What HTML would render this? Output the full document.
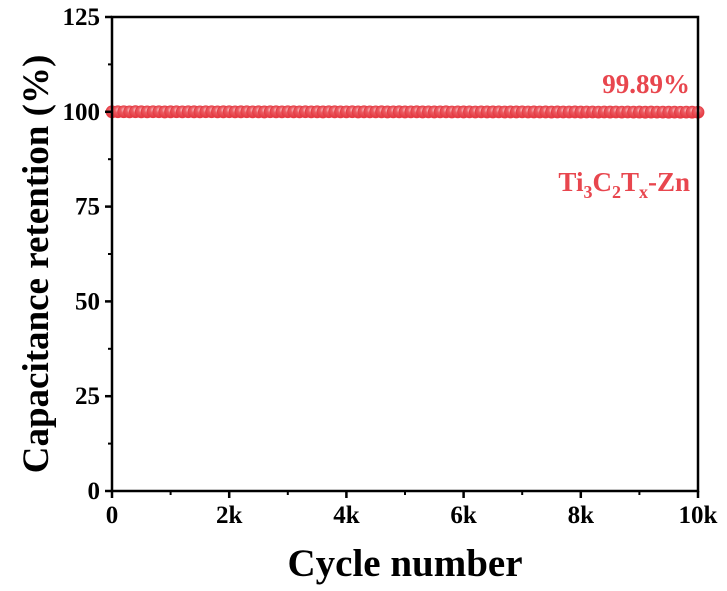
<!DOCTYPE html>
<html><head><meta charset="utf-8"><style>
html,body{margin:0;padding:0;background:#fff;}
svg{display:block;font-family:"Liberation Serif",serif;font-weight:bold;}
</style></head><body>
<svg id="chart" width="727" height="591" viewBox="0 0 727 591" xmlns="http://www.w3.org/2000/svg">
<defs>
<radialGradient id="mk" cx="0.5" cy="0.35" r="0.6">
<stop offset="0" stop-color="#f9d4d6"/><stop offset="0.4" stop-color="#ec5c63"/><stop offset="1" stop-color="#e43a42"/>
</radialGradient>
</defs>
<g id="marks"></g>
<g id="axes"></g>
<text x="690" y="93" text-anchor="end" font-size="27" fill="#e8464e">99.89%</text>
<text x="690" y="191" text-anchor="end" font-size="27" fill="#e8464e">Ti<tspan font-size="18" dy="7">3</tspan><tspan dy="-7">C</tspan><tspan font-size="18" dy="7">2</tspan><tspan dy="-7">T</tspan><tspan font-size="18" dy="7">x</tspan><tspan dy="-7">-Zn</tspan></text>
<text x="405" y="576" text-anchor="middle" font-size="39" fill="#000">Cycle number</text>
<text transform="translate(48,264) rotate(-90)" text-anchor="middle" font-size="37" fill="#000">Capacitance retention (%)</text>
</svg>
<script>
const xTicks=[0,2000,4000,6000,8000,10000];
const xTickLabels=["0","2k","4k","6k","8k","10k"];
const yTicks=[0,25,50,75,100,125];
const yTickLabels=["0","25","50","75","100","125"];
const cycles=[];for(let c=0;c<=10000;c+=100)cycles.push(c);
const retention=[100,100.02,100.01,99.98,100.03,100.0,99.99,100.02,100.01,99.97,100.0,100.02,99.99,100.01,100.0,99.98,100.02,100.01,99.99,100.0,
100.01,99.98,100.0,100.02,99.99,100.0,99.97,100.01,100.0,99.99,100.02,100.0,99.98,100.01,99.99,100.0,99.97,100.01,100.0,99.98,
99.99,100.01,99.97,100.0,99.98,99.99,100.0,99.96,99.99,100.0,99.97,99.98,100.0,99.96,99.99,99.97,99.98,100.0,99.95,99.98,
99.97,99.99,99.95,99.98,99.96,99.97,99.99,99.94,99.97,99.96,99.98,99.94,99.96,99.95,99.97,99.93,99.96,99.94,99.95,99.97,
99.93,99.95,99.94,99.92,99.95,99.93,99.94,99.91,99.94,99.92,99.93,99.90,99.93,99.91,99.92,99.90,99.91,99.89,99.92,99.90,99.89];
const X0=112,X1=698,Y0=491,Y1=17;
const sx=v=>X0+(v-0)/(10000-0)*(X1-X0);
const sy=v=>Y0-(v-0)/(125-0)*(Y0-Y1);
const NS="http://www.w3.org/2000/svg";
function mk(t,a,p){const e=document.createElementNS(NS,t);for(const k in a)e.setAttribute(k,a[k]);p.appendChild(e);return e;}
const marks=document.getElementById('marks');
for(let i=0;i<cycles.length;i++){
  const c=mk('circle',{cx:sx(cycles[i]),cy:sy(retention[i]),r:6,fill:'url(#mk)',stroke:'#e43c44','stroke-width':0.8},marks);
  
  
}
const ax=document.getElementById('axes');
const frame=mk('rect',{x:X0,y:Y1,width:X1-X0,height:Y0-Y1,fill:'none',stroke:'#000','stroke-width':2.5},ax);


for(let i=0;i<xTicks.length;i++){
  const x=sx(xTicks[i]);
  mk('line',{x1:x,y1:Y0,x2:x,y2:Y0+7,stroke:'#000','stroke-width':2.5},ax);
  if(i<xTicks.length-1){const xm=sx(xTicks[i]+1000);mk('line',{x1:xm,y1:Y0,x2:xm,y2:Y0+4,stroke:'#000','stroke-width':2},ax);}
  const t=mk('text',{x:x,y:Y0+32,'text-anchor':'middle','font-size':25,fill:'#000'},ax);t.textContent=xTickLabels[i];
  
  
}
for(let i=0;i<yTicks.length;i++){
  const y=sy(yTicks[i]);
  mk('line',{x1:X0,y1:y,x2:X0-7,y2:y,stroke:'#000','stroke-width':2.5},ax);
  if(i<yTicks.length-1){const ym=sy(yTicks[i]+12.5);mk('line',{x1:X0,y1:ym,x2:X0-4,y2:ym,stroke:'#000','stroke-width':2},ax);}
  const t=mk('text',{x:X0-12,y:y+8,'text-anchor':'end','font-size':25,fill:'#000'},ax);t.textContent=yTickLabels[i];
  
  
}
</script>
</body></html>
